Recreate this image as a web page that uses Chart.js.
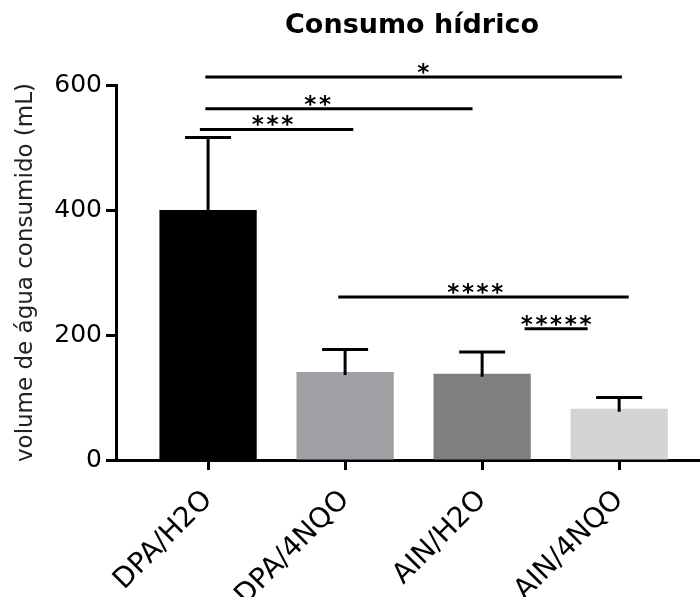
<!DOCTYPE html>
<html>
<head>
<meta charset="utf-8">
<script src="https://cdn.jsdelivr.net/npm/chart.js@4.4.1/dist/chart.umd.min.js"></script>
<style>
  html, body { margin: 0; padding: 0; background: #fff; }
  #wrap { width: 700px; height: 597px; }
</style>
</head>
<body>
<div id="wrap"><canvas id="chart"></canvas></div>
<script>
const chartTitle = 'Consumo hídrico';
const categories = ['DPA/H2O', 'DPA/4NQO', 'AIN/H2O', 'AIN/4NQO'];
const means = [400, 141, 138, 82];
const errTop = [516, 177, 173, 100];   // mean + SD
const barColors = ['#000000', '#a09fa4', '#7f7f7f', '#d4d4d4'];
const yTicks = [0, 200, 400, 600];

// significance brackets (positions in category units)
const sigLabels = ['*', '**', '***', '****', '*****'];
const sigFrom = [-0.02, -0.02, -0.06, 0.95, 2.31];
const sigTo = [3.02, 1.93, 1.06, 3.07, 2.77];
const sigLevel = [613, 562, 529, 261, 210];
const sigLabelAt = [1.57, 0.80, 0.47, 1.95, 2.54];

const font = 'DejaVu Sans';

const extras = {
    id: 'extras',
    afterDatasetsDraw(chart) {
        const ctx = chart.ctx;
        const x = chart.scales.x;
        const y = chart.scales.y;
        ctx.save();
        ctx.strokeStyle = '#000';
        ctx.fillStyle = '#000';
        ctx.lineWidth = 3;

        // error bars
        for (let i = 0; i < means.length; i++) {
            const px = x.getPixelForValue(i);
            const top = y.getPixelForValue(errTop[i]);
            ctx.beginPath();
            ctx.moveTo(px, y.getPixelForValue(means[i]) + 3);
            ctx.lineTo(px, top);
            ctx.moveTo(px - 23, top);
            ctx.lineTo(px + 23, top);
            ctx.stroke();
        }

        // significance lines + stars
        ctx.font = 'bold 23px ' + font;
        ctx.textAlign = 'center';
        ctx.textBaseline = 'alphabetic';
        for (let i = 0; i < sigLabels.length; i++) {
            const ly = y.getPixelForValue(sigLevel[i]);
            ctx.beginPath();
            ctx.moveTo(x.getPixelForValue(sigFrom[i]), ly);
            ctx.lineTo(x.getPixelForValue(sigTo[i]), ly);
            ctx.stroke();
            const n = sigLabels[i].length;
            const cx = x.getPixelForValue(sigLabelAt[i]);
            for (let k = 0; k < n; k++) {
                ctx.fillText('*', cx + (k - (n - 1) / 2) * 14.7, ly + 3);
            }
        }

        // title
        ctx.font = 'bold 27px ' + font;
        ctx.textBaseline = 'middle';
        ctx.fillText(chartTitle, 412, 26);
        ctx.restore();
    }
};

new Chart('chart', {
    type: 'bar',
    data: {
        datasets: [{
            data: means.map((v, i) => ({ x: i, y: v })),
            backgroundColor: barColors,
            borderWidth: 0,
            barPercentage: 0.71,
            categoryPercentage: 1
        }]
    },
    options: {
        responsive: true,
        maintainAspectRatio: false,
        animation: false,
        layout: { padding: { top: 85, right: 0, bottom: 0, left: 0 } },
        plugins: {
            legend: { display: false },
            tooltip: { enabled: false },
            title: { display: false }
        },
        scales: {
            x: {
                type: 'linear',
                offset: false,
                min: -0.672,
                max: 3.59,
                afterBuildTicks: s => { s.ticks = categories.map((c, i) => ({ value: i })); },
                afterFit: s => { s.height = 137; },
                grid: { offset: false, drawOnChartArea: false, drawTicks: true, tickLength: 10, tickWidth: 3, tickColor: '#000' },
                border: { display: true, color: '#000', width: 3 },
                ticks: {
                    autoSkip: false,
                    minRotation: 45,
                    maxRotation: 45,
                    padding: 14,
                    color: '#000',
                    font: { family: font, size: 28 },
                    callback: v => categories[v]
                }
            },
            y: {
                min: 0,
                max: 600,
                afterBuildTicks: s => { s.ticks = yTicks.map(v => ({ value: v })); },
                afterFit: s => { s.width = 116; },
                grid: { drawOnChartArea: false, drawTicks: true, tickLength: 10, tickWidth: 3, tickColor: '#000' },
                border: { display: true, color: '#000', width: 3 },
                ticks: { padding: 4, color: '#000', font: { family: font, size: 25 } },
                title: {
                    display: true,
                    text: 'volume de água consumido (mL)',
                    color: '#222',
                    font: { family: font, size: 23 },
                    padding: { top: 12, bottom: 0 }
                }
            }
        }
    },
    plugins: [extras]
});
</script>
</body>
</html>
